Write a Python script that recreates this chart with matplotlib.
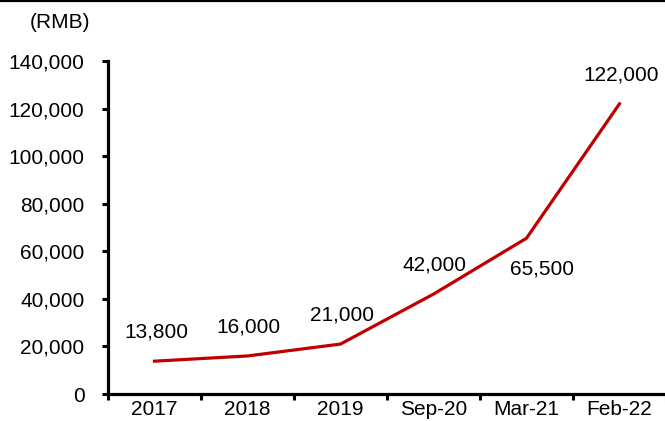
import matplotlib
matplotlib.use("Agg")
import matplotlib.pyplot as plt
from matplotlib.lines import Line2D
from matplotlib.ticker import FixedLocator, FuncFormatter

plt.rcParams['font.family'] = ['Liberation Sans', 'DejaVu Sans']

periods = ["2017", "2018", "2019", "Sep-20", "Mar-21", "Feb-22"]
values = [13800, 16000, 21000, 42000, 65500, 122000]
y_ticks = [0, 20000, 40000, 60000, 80000, 100000, 120000, 140000]

RED = "#C00000"
FS = 15

fig = plt.figure(figsize=(6.65, 4.21), dpi=100)
ax = fig.add_axes([0.1624, 0.0641, 0.8391, 0.7910])

x = list(range(len(periods)))
ax.plot(x, values, color=RED, lw=2.3, solid_joinstyle="miter", clip_on=False)

# value labels: above each point, except Mar-21 which sits below and to the right
for i, v in enumerate(values):
    if periods[i] == "Mar-21":
        dx, dy = 11, -22
    else:
        dx, dy = 1, 21
    ax.annotate(f"{v:,}", (i, v), xytext=(dx, dy), textcoords="offset points",
                ha="center", va="center", fontsize=FS, color="black")

ax.set_xlim(-0.5, len(periods) - 0.5)
ax.set_ylim(0, 140000)

ax.set_xticks(x)
ax.set_xticklabels(periods)
ax.xaxis.set_minor_locator(FixedLocator([i - 0.5 for i in range(len(periods) + 1)]))
ax.tick_params(axis="x", which="major", length=0, pad=4.5, labelsize=FS)
ax.tick_params(axis="x", which="minor", direction="out", length=4, width=2.2, color="black")

ax.set_yticks(y_ticks)
ax.yaxis.set_major_formatter(FuncFormatter(lambda v, p: f"{int(v):,}"))
ax.tick_params(axis="y", direction="out", length=4, width=2.2, pad=13, labelsize=FS)

for side in ("top", "right"):
    ax.spines[side].set_visible(False)
for side in ("left", "bottom"):
    ax.spines[side].set_linewidth(2.3)
    ax.spines[side].set_color("black")

fig.text(30 / 665, 1 - 23 / 421, "(RMB)", fontsize=FS, ha="left", va="center")

# rule across the top of the figure
fig.add_artist(Line2D([0, 1], [0.998, 0.998], transform=fig.transFigure,
                      color="black", lw=1.6))

fig.savefig("out.png", dpi=100)
